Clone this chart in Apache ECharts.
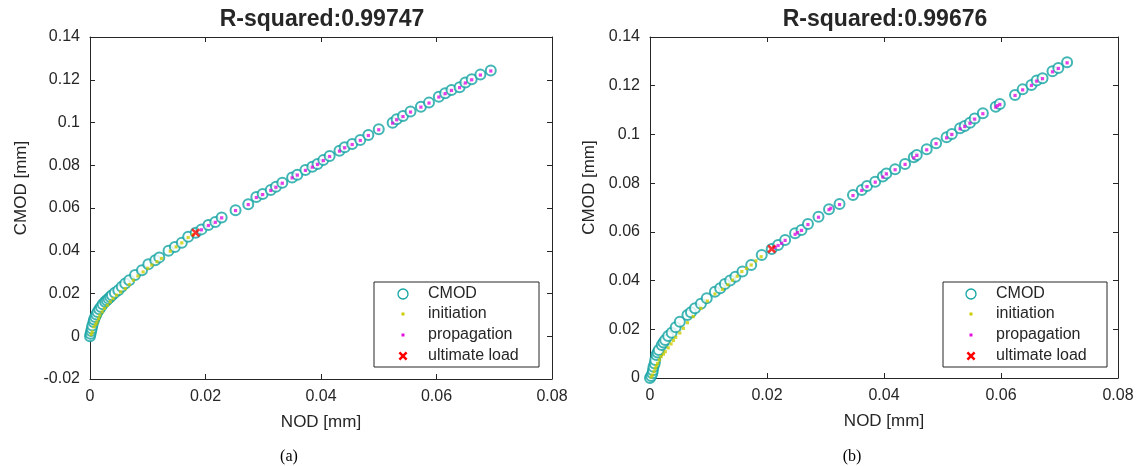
<!DOCTYPE html>
<html>
<head>
<meta charset="utf-8">
<script src="https://cdn.jsdelivr.net/npm/echarts@6/dist/echarts.min.js"></script>
<style>html,body{margin:0;padding:0;background:#fff}#c{width:1144px;height:466px}</style>
</head>
<body>
<div id="c"></div>
<script>
// ---------- data (a) ----------
const titleA = 'R-squared:0.99747';
const titleB = 'R-squared:0.99676';
const xTicks = [0, 0.02, 0.04, 0.06, 0.08];
const yTicksA = [-0.02, 0, 0.02, 0.04, 0.06, 0.08, 0.1, 0.12, 0.14];
const yTicksB = [0, 0.02, 0.04, 0.06, 0.08, 0.1, 0.12, 0.14];
const legendNames = ['CMOD', 'initiation', 'propagation', 'ultimate load'];

const cmodNodA = [0,0.0001,0.0002,0.0003,0.0004,0.0006,0.0007,0.0009,0.0011,0.0013,0.0016,0.0019,0.0022,0.0026,0.0029,0.0032,0.0035,0.0038,0.0043,0.0049,0.0055,0.0061,0.0068,0.0078,0.0090,0.0101,0.0113,0.0120,0.0136,0.0147,0.0159,0.0170,0.0183,0.0193,0.0205,0.0217,0.0228,0.0252,0.0274,0.0288,0.0299,0.0313,0.0322,0.0333,0.0350,0.0359,0.0373,0.0385,0.0394,0.0404,0.0415,0.0432,0.0441,0.0454,0.0468,0.0482,0.0500,0.0524,0.0531,0.0542,0.0555,0.0573,0.0587,0.0604,0.0615,0.0626,0.0640,0.0650,0.0661,0.0676,0.0694];
const cmodValA = [0,0.0012,0.0024,0.0036,0.0050,0.0067,0.0078,0.0090,0.0102,0.0114,0.0126,0.0137,0.0150,0.0161,0.0168,0.0176,0.0184,0.0192,0.0203,0.0215,0.0232,0.0247,0.0262,0.0286,0.0309,0.0337,0.0356,0.0369,0.0400,0.0418,0.0437,0.0465,0.0484,0.0500,0.0520,0.0535,0.0556,0.0590,0.0618,0.0652,0.0665,0.0684,0.0699,0.0718,0.0743,0.0756,0.0778,0.0793,0.0806,0.0824,0.0843,0.0868,0.0884,0.0899,0.0918,0.0941,0.0968,0.0999,0.1015,0.1030,0.1051,0.1074,0.1093,0.1121,0.1137,0.1152,0.1165,0.1187,0.1202,0.1224,0.1243];

const initNodA = [0.0002,0.0004,0.0007,0.0010,0.0012,0.0015,0.0017,0.0021,0.0025,0.0030,0.0035,0.0040,0.0046,0.0053,0.0061,0.0068,0.0075,0.0083,0.0092,0.0100,0.0107,0.0116,0.0124,0.0139,0.0149,0.0159,0.0170,0.0178];
const initValA = [0.0008,0.0020,0.0044,0.0056,0.0067,0.0082,0.0098,0.0114,0.0130,0.0145,0.0161,0.0176,0.0192,0.0207,0.0223,0.0242,0.0262,0.0282,0.0301,0.0318,0.0333,0.0349,0.0364,0.0398,0.0418,0.0437,0.0462,0.0475];

const propNodA = [0.0193,0.0205,0.0217,0.0228,0.0252,0.0274,0.0288,0.0299,0.0313,0.0322,0.0333,0.0350,0.0359,0.0373,0.0385,0.0394,0.0404,0.0415,0.0432,0.0441,0.0454,0.0468,0.0482,0.0500,0.0524,0.0531,0.0542,0.0555,0.0573,0.0587,0.0604,0.0615,0.0626,0.0640,0.0650,0.0661,0.0676,0.0694];
const propValA = [0.0498,0.0518,0.0533,0.0554,0.0588,0.0616,0.0649,0.0663,0.0682,0.0697,0.0716,0.0741,0.0754,0.0776,0.0791,0.0804,0.0822,0.0841,0.0866,0.0882,0.0897,0.0916,0.0939,0.0966,0.0997,0.1013,0.1028,0.1049,0.1072,0.1091,0.1119,0.1135,0.1150,0.1163,0.1185,0.1200,0.1222,0.1241];

const ultNodA = [0.0183];
const ultValA = [0.0484];

// ---------- data (b) ----------
const cmodNodB = [0,0.0002,0.0004,0.0005,0.0006,0.0008,0.0009,0.0011,0.0013,0.0015,0.0020,0.0023,0.0026,0.0031,0.0037,0.0044,0.0051,0.0064,0.0070,0.0077,0.0087,0.0097,0.0111,0.0120,0.0128,0.0137,0.0146,0.0158,0.0173,0.0191,0.0208,0.0219,0.0231,0.0248,0.0259,0.0270,0.0288,0.0306,0.0324,0.0347,0.0362,0.0371,0.0385,0.0398,0.0404,0.0419,0.0436,0.0451,0.0456,0.0473,0.0489,0.0507,0.0516,0.0530,0.0538,0.0547,0.0555,0.0569,0.0591,0.0598,0.0624,0.0637,0.0652,0.0661,0.0671,0.0688,0.0698,0.0713];
const cmodValB = [0,0.0008,0.0019,0.0032,0.0046,0.0060,0.0074,0.0094,0.0105,0.0115,0.0135,0.0146,0.0156,0.0172,0.0186,0.0208,0.0231,0.0259,0.0270,0.0286,0.0305,0.0327,0.0354,0.0368,0.0386,0.0400,0.0416,0.0437,0.0464,0.0505,0.0530,0.0546,0.0567,0.0594,0.0608,0.0632,0.0662,0.0693,0.0714,0.0751,0.0772,0.0788,0.0806,0.0827,0.0840,0.0857,0.0879,0.0906,0.0916,0.0939,0.0964,0.0988,0.1002,0.1025,0.1035,0.1048,0.1065,0.1087,0.1114,0.1125,0.1162,0.1185,0.1203,0.1221,0.1231,0.1259,0.1273,0.1296];

const initNodB = [0.0002,0.0004,0.0007,0.0009,0.0011,0.0013,0.0016,0.0019,0.0023,0.0026,0.0031,0.0036,0.0040,0.0044,0.0051,0.0057,0.0064,0.0074,0.0087,0.0098,0.0111,0.0124,0.0133,0.0141,0.0149,0.0157,0.0165,0.0173,0.0181,0.0190];
const initValB = [0.0004,0.0012,0.0026,0.0040,0.0050,0.0060,0.0074,0.0088,0.0098,0.0108,0.0124,0.0140,0.0154,0.0167,0.0185,0.0204,0.0227,0.0252,0.0286,0.0316,0.0345,0.0364,0.0383,0.0402,0.0418,0.0437,0.0450,0.0464,0.0481,0.0498];

const propNodB = [0.0214,0.0219,0.0225,0.0231,0.0248,0.0252,0.0259,0.0270,0.0288,0.0306,0.0309,0.0324,0.0347,0.0362,0.0371,0.0385,0.0398,0.0404,0.0419,0.0436,0.0451,0.0456,0.0473,0.0489,0.0507,0.0516,0.0530,0.0538,0.0547,0.0555,0.0569,0.0591,0.0594,0.0598,0.0624,0.0637,0.0652,0.0661,0.0671,0.0688,0.0698,0.0713];
const propValB = [0.0536,0.0544,0.0553,0.0565,0.0590,0.0597,0.0606,0.0630,0.0660,0.0691,0.0697,0.0712,0.0749,0.0770,0.0786,0.0804,0.0825,0.0838,0.0855,0.0877,0.0904,0.0914,0.0937,0.0962,0.0986,0.1000,0.1023,0.1033,0.1046,0.1063,0.1085,0.1112,0.1118,0.1123,0.1160,0.1183,0.1201,0.1219,0.1229,0.1257,0.1271,0.1294];

const ultNodB = [0.0208];
const ultValB = [0.0530];

// ---------- styling ----------
const C_CMOD = '#13a3a3', C_INIT = '#cccc00', C_PROP = '#e010e0', C_ULT = '#ff0000';
const AX = '#262626';
const FONT = 'Liberation Sans, Arial, sans-serif';
const XPATH = 'path://M0,2 L2,0 L5,3 L8,0 L10,2 L7,5 L10,8 L8,10 L5,7 L2,10 L0,8 L3,5 Z';
const zip = (a, b) => a.map((v, i) => [v, b[i]]);
const fmt = v => String(parseFloat(v.toFixed(2)));

function bottomX(gi) {
  return { gridIndex: gi, type: 'value', min: xTicks[0], max: xTicks[xTicks.length-1], interval: 0.02,
    name: 'NOD [mm]', nameLocation: 'middle', nameGap: 35,
    nameTextStyle: { fontFamily: FONT, fontSize: 17, color: AX },
    axisLine: { show: true, onZero: false, lineStyle: { color: AX, width: 1 } },
    axisTick: { show: true, inside: true, length: 5, lineStyle: { color: AX } },
    axisLabel: { fontFamily: FONT, fontSize: 16, color: AX, margin: 10, formatter: fmt },
    splitLine: { show: false } };
}
function topX(gi) {
  return { gridIndex: gi, type: 'value', position: 'top', min: xTicks[0], max: xTicks[xTicks.length-1], interval: 0.02,
    axisLine: { show: true, onZero: false, lineStyle: { color: AX, width: 1 } },
    axisTick: { show: true, inside: true, length: 5, lineStyle: { color: AX } },
    axisLabel: { show: false }, splitLine: { show: false } };
}
function leftY(gi, ticks, gap) {
  return { gridIndex: gi, type: 'value', min: ticks[0], max: ticks[ticks.length-1], interval: 0.02,
    name: 'CMOD [mm]', nameLocation: 'middle', nameGap: gap, nameRotate: 90,
    nameTextStyle: { fontFamily: FONT, fontSize: 17, color: AX, padding: [0, 0, 0, 40] },
    axisLine: { show: true, onZero: false, lineStyle: { color: AX, width: 1 } },
    axisTick: { show: true, inside: true, length: 5, lineStyle: { color: AX } },
    axisLabel: { fontFamily: FONT, fontSize: 16, color: AX, margin: 10, formatter: fmt },
    splitLine: { show: false } };
}
function rightY(gi, ticks) {
  return { gridIndex: gi, type: 'value', position: 'right', min: ticks[0], max: ticks[ticks.length-1], interval: 0.02,
    axisLine: { show: true, onZero: false, lineStyle: { color: AX, width: 1 } },
    axisTick: { show: true, inside: true, length: 5, lineStyle: { color: AX } },
    axisLabel: { show: false }, splitLine: { show: false } };
}
function seriesFor(gi, cn, cv, inn, inv, pn, pv, un, uv) {
  return [
    { name: legendNames[0], type: 'scatter', xAxisIndex: gi, yAxisIndex: gi, data: zip(cn, cv),
      symbol: 'emptyCircle', symbolSize: 10, itemStyle: { color: C_CMOD, borderColor: C_CMOD, borderWidth: 1.2 }, z: 2, silent: true },
    { name: legendNames[1], type: 'scatter', xAxisIndex: gi, yAxisIndex: gi, data: zip(inn, inv),
      symbol: 'rect', symbolSize: 3.2, itemStyle: { color: C_INIT }, z: 3, silent: true },
    { name: legendNames[2], type: 'scatter', xAxisIndex: gi, yAxisIndex: gi, data: zip(pn, pv),
      symbol: 'rect', symbolSize: 3.2, itemStyle: { color: C_PROP }, z: 4, silent: true },
    { name: legendNames[3], type: 'scatter', xAxisIndex: gi, yAxisIndex: gi, data: zip(un, uv),
      symbol: XPATH, symbolSize: 9, itemStyle: { color: C_ULT }, z: 5, silent: true }
  ];
}
function crossPts(cx, cy) {
  const p = [[0,2],[2,0],[5,3],[8,0],[10,2],[7,5],[10,8],[8,10],[5,7],[2,10],[0,8],[3,5]];
  return p.map(q => [cx - 4.5 + q[0] * 0.9, cy - 4.5 + q[1] * 0.9]);
}
function legendBox(x, y, w, h, ix, tx) {
  const rows = [12, 32, 53, 74];
  const ch = [{ type: 'rect', shape: { x: 0, y: 0, width: w, height: h }, style: { fill: '#fff', stroke: AX, lineWidth: 1 } }];
  ch.push({ type: 'circle', shape: { cx: ix, cy: rows[0], r: 5 }, style: { fill: 'none', stroke: C_CMOD, lineWidth: 1.3 } });
  ch.push({ type: 'rect', shape: { x: ix-1.5, y: rows[1]-1.5, width: 3, height: 3 }, style: { fill: C_INIT } });
  ch.push({ type: 'rect', shape: { x: ix-1.5, y: rows[2]-1.5, width: 3, height: 3 }, style: { fill: C_PROP } });
  ch.push({ type: 'polygon', shape: { points: crossPts(ix, rows[3]) }, style: { fill: C_ULT } });
  legendNames.forEach((n, i) => ch.push({ type: 'text', x: tx, y: rows[i], style: { text: n, font: '16px ' + FONT, fill: AX, verticalAlign: 'middle', textVerticalAlign: 'middle' } }));
  return { type: 'group', x: x, y: y, z: 100, children: ch };
}

const chart = echarts.init(document.getElementById('c'), null, { renderer: 'canvas' });
chart.setOption({
  animation: false,
  backgroundColor: '#fff',
  title: [
    { text: titleA, left: 317, top: 3, textAlign: 'center', textStyle: { fontFamily: FONT, fontSize: 23, fontWeight: 'bold', color: AX } },
    { text: titleB, left: 880, top: 3, textAlign: 'center', textStyle: { fontFamily: FONT, fontSize: 23, fontWeight: 'bold', color: AX } },
    { text: '(a)', left: 284, top: 444, textAlign: 'center', textStyle: { fontFamily: 'Liberation Serif, serif', fontSize: 16, fontWeight: 'normal', color: '#000' } },
    { text: '(b)', left: 847, top: 444, textAlign: 'center', textStyle: { fontFamily: 'Liberation Serif, serif', fontSize: 16, fontWeight: 'normal', color: '#000' } }
  ],
  grid: [
    { left: 90, right: 592, top: 37, bottom: 87 },
    { left: 650, right: 26, top: 37, bottom: 88 }
  ],
  xAxis: [bottomX(0), bottomX(1), topX(0), topX(1)],
  yAxis: [leftY(0, yTicksA, 60), leftY(1, yTicksB, 52), rightY(0, yTicksA), rightY(1, yTicksB)],
  series: [].concat(
    seriesFor(0, cmodNodA, cmodValA, initNodA, initValA, propNodA, propValA, ultNodA, ultValA),
    seriesFor(1, cmodNodB, cmodValB, initNodB, initValB, propNodB, propValB, ultNodB, ultValB)
  ),
  graphic: [
    legendBox(374, 282, 165, 85, 29, 54),
    legendBox(943, 282, 164, 85, 28, 53)
  ]
});
</script>
</body>
</html>
